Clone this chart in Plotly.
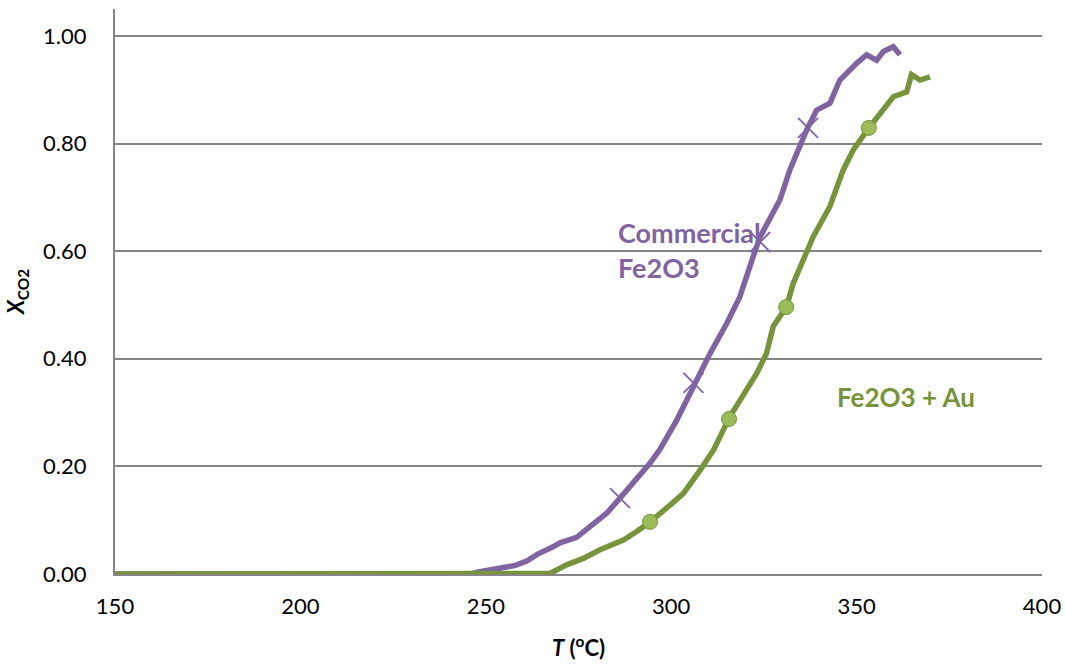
import plotly.graph_objects as go

# Commercial Fe2O3 (purple)
comm_T = [150, 170, 190, 210, 230, 246, 248, 250, 254, 258, 261, 264, 268, 270, 274.5, 279,
          282.6, 286.2, 289.8, 294.3, 297, 301.5, 306, 310.5, 315, 318.5, 322.1, 324, 329.3,
          332, 336.5, 339.2, 342.8, 345.5, 350, 352.7, 355.4, 357.2, 359.9, 361.7]
comm_X = [0, 0, 0, 0, 0, 0, 0.004, 0.006, 0.012, 0.016, 0.024, 0.037, 0.05, 0.058, 0.068, 0.092,
          0.113, 0.141, 0.169, 0.206, 0.232, 0.286, 0.348, 0.41, 0.466, 0.515, 0.59, 0.627, 0.695,
          0.751, 0.825, 0.862, 0.875, 0.918, 0.949, 0.965, 0.955, 0.971, 0.98, 0.965]

# Fe2O3 + Au (green)
au_T = [150, 170, 190, 210, 230, 250, 265, 267.3, 271.8, 276.3, 280.8, 287.1, 290.7, 294.3, 299.7,
        303.3, 307.8, 311.4, 315.8, 318.5, 323.1, 325.7, 327.5, 331.1, 332.9, 338.3, 342.8,
        346.4, 349.1, 353.2, 356.3, 359.9, 363.5, 364.8, 367.1, 369.8]
au_X = [0, 0, 0, 0, 0, 0, 0, 0.001, 0.017, 0.029, 0.045, 0.063, 0.079, 0.097, 0.128,
        0.15, 0.193, 0.23, 0.292, 0.323, 0.373, 0.41, 0.46, 0.497, 0.54, 0.627, 0.683,
        0.751, 0.788, 0.828, 0.856, 0.887, 0.896, 0.928, 0.918, 0.924]

# marker points
comm_mT = [286.2, 306.0, 324.0, 336.9]
comm_mX = [0.141, 0.355, 0.617, 0.829]
au_mT = [294.3, 315.6, 331.0, 353.3]
au_mX = [0.097, 0.288, 0.496, 0.829]

x_ticks = [150, 200, 250, 300, 350, 400]
y_ticks = [0, 0.2, 0.4, 0.6, 0.8, 1.0]

PURPLE = "#8064A2"
GREEN = "#77933C"
LGREEN = "#9BBB59"
GRID = "#868686"
FONT = "Lato"

fig = go.Figure()
fig.add_trace(go.Scatter(x=comm_T, y=comm_X, mode="lines",
                         line=dict(color=PURPLE, width=5.5), showlegend=False))
fig.add_trace(go.Scatter(x=comm_mT, y=comm_mX, mode="markers",
                         marker=dict(symbol="x-thin", size=20, line=dict(color=PURPLE, width=1.8)),
                         showlegend=False))
fig.add_trace(go.Scatter(x=au_T, y=au_X, mode="lines",
                         line=dict(color=GREEN, width=5.5), showlegend=False))
fig.add_trace(go.Scatter(x=au_mT, y=au_mX, mode="markers",
                         marker=dict(symbol="circle", size=15, color=LGREEN,
                                     line=dict(color=GREEN, width=1)),
                         showlegend=False))

fig.add_annotation(x=285.1, y=0.602, xref="x", yref="y", text="Commercial<br>Fe2O3",
                   showarrow=False, xanchor="left", yanchor="middle", align="left",
                   font=dict(family=FONT, size=27, color=PURPLE, weight="bold"))
fig.add_annotation(x=344.2, y=0.329, xref="x", yref="y", text="Fe2O3 + Au",
                   showarrow=False, xanchor="left", yanchor="middle", align="left",
                   font=dict(family=FONT, size=26, color=GREEN, weight="bold"))

fig.update_layout(
    width=1065, height=664,
    margin=dict(l=115, r=23, t=9, b=90, autoexpand=False),
    paper_bgcolor="white", plot_bgcolor="white",
    font=dict(family=FONT, size=22, color="black"),
    xaxis=dict(range=[150, 400], tickvals=x_ticks, ticktext=[str(v) for v in x_ticks],
               showgrid=False, zeroline=False, showline=True, linecolor=GRID, linewidth=2,
               ticks="", ticklabelstandoff=12, automargin=False,
               title=dict(text="<b><i>T</i> (<sup>o</sup>C)</b>", font=dict(size=22), standoff=22)),
    yaxis=dict(range=[0, 1.05], tickvals=y_ticks, ticktext=[f"{v:.2f}" for v in y_ticks],
               showgrid=True, gridcolor=GRID, gridwidth=1.5, zeroline=False, automargin=False,
               showline=True, linecolor=GRID, linewidth=2, ticks="", ticklabelstandoff=22,
               title=dict(text="<b><i>X</i><sub>CO2</sub></b>", font=dict(size=22), standoff=12)),
)

fig.write_html("out.html")
